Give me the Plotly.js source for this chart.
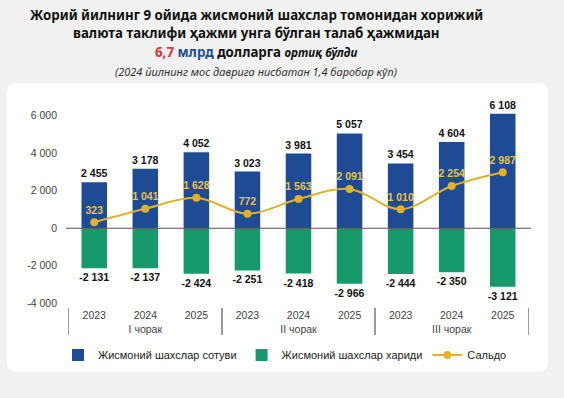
<!DOCTYPE html>
<html>
<head>
<meta charset="utf-8">
<script src="https://cdn.plot.ly/plotly-3.0.1.min.js"></script>
<style>
html,body{margin:0;padding:0;background:#f1f1f1;}
#chart{width:564px;height:398px;}
</style>
</head>
<body>
<div id="chart"></div>
<script>
// ---- data ----
const quarters = ["I чорак","I чорак","I чорак","II чорак","II чорак","II чорак","III чорак","III чорак","III чорак"];
const years = ["2023","2024","2025","2023","2024","2025","2023","2024","2025"];
const sales = [2455, 3178, 4052, 3023, 3981, 5057, 3454, 4604, 6108];
const purchases = [-2131, -2137, -2424, -2251, -2418, -2966, -2444, -2350, -3121];
const saldo = [323, 1041, 1628, 772, 1563, 2091, 1010, 2254, 2987];
const seriesNames = ["Жисмоний шахслар сотуви", "Жисмоний шахслар хариди", "Сальдо"];
const yTickVals = [-4000, -2000, 0, 2000, 4000, 6000];
const yTickText = ["-4 000", "-2 000", "0", "2 000", "4 000", "6 000"];
const titleLines = [
  "<b>Жорий йилнинг 9 ойида жисмоний шахслар томонидан хорижий</b>",
  "<b>валюта таклифи ҳажми унга бўлган талаб ҳажмидан</b>",
  "<b><span style='color:#e3302f'>6,7</span> <span style='color:#1f4e96'>млрд</span> долларга</b> <b><i><span style='font-size:11.5px'>ортиқ бўлди</span></i></b>",
  "<i>(2024 йилнинг мос даврига нисбатан 1,4 баробар кўп)</i>"
];

function fmt(v){
  const s = String(Math.abs(v)).replace(/\B(?=(\d{3})+(?!\d))/g, ' ');
  return (v < 0 ? '-' : '') + s;
}

// ---- geometry helpers (pixel -> paper) ----
const W = 564, H = 398;
const M = {l:66, r:33, t:105, b:91};
const pw = W - M.l - M.r, ph = H - M.t - M.b;
const px = x => (x - M.l) / pw;
const py = y => (H - M.b - y) / ph;

const x = [quarters, years];
const labelFont = {family: 'Liberation Sans, Arial', size: 10.5, color: '#111'};

const traces = [
  {
    type: 'bar', name: seriesNames[0], x: x, y: sales,
    marker: {color: '#1f4a94'},
    text: sales.map(fmt), textposition: 'outside', constraintext: 'none',
    textfont: labelFont, texttemplate: '<b>%{text}</b>',
    cliponaxis: false, hoverinfo: 'skip'
  },
  {
    type: 'bar', name: seriesNames[1], x: x, y: purchases,
    marker: {color: '#179a6b'},
    text: purchases.map(fmt), textposition: 'outside', constraintext: 'none',
    textfont: labelFont, texttemplate: '<b>%{text}</b>',
    cliponaxis: false, hoverinfo: 'skip'
  },
  {
    type: 'scatter', mode: 'lines+markers+text', name: seriesNames[2], x: x, y: saldo,
    line: {color: '#e3b22a', width: 2, shape: 'spline', smoothing: 1},
    marker: {color: '#e3b22a', size: 8},
    text: saldo.map(fmt), textposition: 'top center',
    texttemplate: '<b>%{text}</b>',
    textfont: {family: 'Liberation Sans, Arial', size: 10.5, color: '#e6c44a'},
    cliponaxis: false, hoverinfo: 'skip'
  }
];

// rounded card path in paper coords
function roundRect(x0, y0, x1, y1, r){
  const X = v => px(v).toFixed(5), Y = v => py(v).toFixed(5);
  return `M ${X(x0+r)} ${Y(y0)} L ${X(x1-r)} ${Y(y0)} Q ${X(x1)} ${Y(y0)} ${X(x1)} ${Y(y0+r)} ` +
         `L ${X(x1)} ${Y(y1-r)} Q ${X(x1)} ${Y(y1)} ${X(x1-r)} ${Y(y1)} L ${X(x0+r)} ${Y(y1)} ` +
         `Q ${X(x0)} ${Y(y1)} ${X(x0)} ${Y(y1-r)} L ${X(x0)} ${Y(y0+r)} Q ${X(x0)} ${Y(y0)} ${X(x0+r)} ${Y(y0)} Z`;
}

const titleY = [15, 33, 52, 71];
const titleSize = [13.3, 13.3, 13.3, 11];
const annotations = titleLines.map((t, i) => ({
  text: t, xref: 'paper', yref: 'paper', x: px(256), y: py(titleY[i]),
  xanchor: 'center', yanchor: 'middle', showarrow: false,
  font: {family: 'Noto Sans, Open Sans, sans-serif', size: titleSize[i], color: i === 3 ? '#333' : '#111'}
}));

const layout = {
  width: W, height: H,
  margin: M,
  paper_bgcolor: '#f1f1f1',
  plot_bgcolor: 'rgba(0,0,0,0)',
  barmode: 'overlay',
  bargap: 0.5,
  showlegend: true,
  legend: {
    orientation: 'h', x: px(285), xanchor: 'center', y: py(355), yanchor: 'middle',
    font: {family: 'Liberation Sans, Arial', size: 11, color: '#222'},
    bgcolor: 'rgba(0,0,0,0)', itemwidth: 30, traceorder: 'normal'
  },
  xaxis: {
    type: 'multicategory',
    showgrid: false, zeroline: false, showline: false, ticks: '',
    tickfont: {family: 'Liberation Sans, Arial', size: 10.5, color: '#444'},
    showdividers: true, dividercolor: '#9a9a9a', dividerwidth: 1.5
  },
  yaxis: {
    range: [-4200, 6573],
    tickvals: yTickVals, ticktext: yTickText,
    showgrid: false, zeroline: false, showline: false, ticks: '',
    ticklabelstandoff: 8,
    tickfont: {family: 'Liberation Sans, Arial', size: 10.5, color: '#444'}
  },
  shapes: [
    {type: 'path', xref: 'paper', yref: 'paper', path: roundRect(7, 83, 548, 372, 10),
     fillcolor: '#ffffff', line: {width: 0}, layer: 'below'},
    {type: 'line', xref: 'paper', yref: 'y', x0: 0, x1: 1, y0: 0, y1: 0,
     line: {color: '#555', width: 1}, layer: 'above'}
  ],
  annotations: annotations
};

Plotly.newPlot('chart', traces, layout, {displayModeBar: false, staticPlot: true});
</script>
</body>
</html>
